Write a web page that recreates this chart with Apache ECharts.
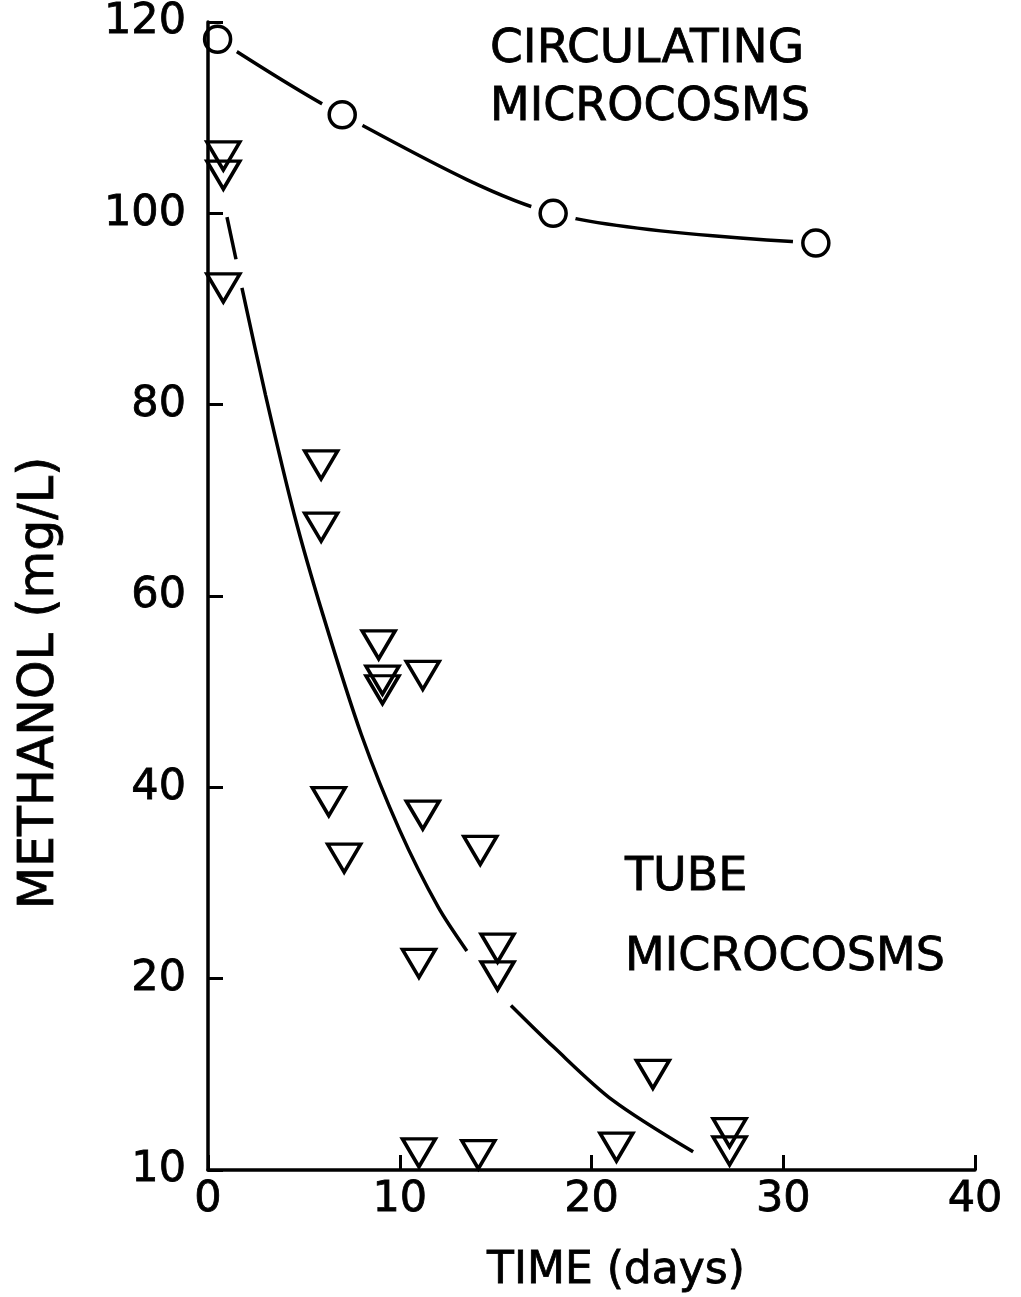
<!DOCTYPE html>
<html>
<head>
<meta charset="utf-8">
<script src="https://cdn.jsdelivr.net/npm/echarts@6/dist/echarts.min.js"></script>
<style>
html,body{margin:0;padding:0;background:#fff;}
#chart{width:1021px;height:1297px;}
</style>
</head>
<body>
<div id="chart"></div>
<script>
// ---- data ----
var xTicks = [0, 10, 20, 30, 40];
var yTickLabels = ['10', '20', '40', '60', '80', '100', '120']; // labels at 0,20,...,120 as printed

// circulating microcosms (days, mg/L)
var circulatingPoints = [[0.5, 118.2], [7.0, 110.3], [18.0, 100.0], [31.7, 96.9]];

// tube microcosms (days, mg/L)
var tubePoints = [
  [0.8, 106.0], [0.8, 104.0], [0.8, 92.2],
  [5.9, 73.7], [5.9, 67.2],
  [8.9, 54.9], [9.1, 51.2], [9.1, 50.2], [11.2, 51.7],
  [6.3, 38.5], [7.1, 32.6], [11.2, 37.1], [14.2, 33.4],
  [11.0, 21.6], [15.1, 23.2], [15.1, 20.3],
  [23.2, 10.0],
  [11.0, 1.8], [14.1, 1.6], [21.3, 2.4], [27.2, 3.9], [27.2, 2.0]
];

// fitted curve for tube microcosms, drawn in pieces (gaps as in the original)
var tubeCurveA = [[0.99, 99.6], [1.46, 95.2]];
var tubeCurveB = [[1.77, 92.2], [3.0, 81.0], [4.5, 68.5], [6.0, 58.0], [8.0, 45.5], [10.0, 35.5], [12.0, 27.5], [13.5, 22.9]];
var tubeCurveC = [[15.8, 17.2], [18.0, 12.9], [21.1, 7.3], [25.3, 1.9]];

var FONT = '"DejaVu Sans", "Liberation Sans", sans-serif';
var INK = '#000';

var chart = echarts.init(document.getElementById('chart'), null, {renderer: 'canvas'});

function curveSeries(data, sm) {
  return {
    type: 'line', data: data, smooth: sm, symbol: 'none', z: 2,
    lineStyle: {color: INK, width: 3.5}, silent: true
  };
}

function label(text, x, y, size, align, rot) {
  return {type: 'text', x: x, y: y, rotation: rot || 0,
    style: {text: text, font: 'normal ' + size + 'px ' + FONT, fill: INK,
      stroke: INK, lineWidth: 0.8, align: align, verticalAlign: 'middle'}};
}

var option = {
  backgroundColor: '#fff',
  animation: false,
  grid: {left: 208, right: 46, top: 22, bottom: 127, containLabel: false},
  xAxis: {
    type: 'value', min: 0, max: 40, interval: 10, z: 10,
    axisLine: {show: true, lineStyle: {color: INK, width: 3.5}},
    axisTick: {show: true, inside: true, length: 15, lineStyle: {color: INK, width: 3}},
    axisLabel: {color: INK, fontFamily: FONT, fontSize: 43, margin: 8,
      textBorderColor: INK, textBorderWidth: 0.8,
      formatter: function (v) { return xTicks.indexOf(v) >= 0 ? String(v) : ''; }},
    splitLine: {show: false}
  },
  yAxis: {
    type: 'value', min: 0, max: 120, interval: 20, z: 10,
    axisLine: {show: true, lineStyle: {color: INK, width: 3.5}},
    axisTick: {show: true, inside: true, length: 15, lineStyle: {color: INK, width: 3}},
    axisLabel: {color: INK, fontFamily: FONT, fontSize: 43, margin: 22,
      textBorderColor: INK, textBorderWidth: 0.8,
      formatter: function (v) { return yTickLabels[Math.round(v / 20)]; }},
    splitLine: {show: false}
  },
  series: [
    curveSeries(circulatingPoints, 0.3),
    { // white halo to open gaps in the curve around each circle
      type: 'scatter', data: circulatingPoints, symbol: 'circle', symbolSize: 46, z: 3,
      itemStyle: {color: '#fff', borderWidth: 0, opacity: 1}, silent: true
    },
    {
      type: 'scatter', data: circulatingPoints, symbol: 'circle', symbolSize: 26, z: 4,
      itemStyle: {color: '#fff', borderColor: INK, borderWidth: 3.5, opacity: 1}
    },
    curveSeries(tubeCurveA, 0.3),
    curveSeries(tubeCurveB, 0.3),
    curveSeries(tubeCurveC, 0.3),
    {
      type: 'scatter', data: tubePoints, symbol: 'triangle', symbolRotate: 180,
      symbolSize: [33, 28], z: 4,
      itemStyle: {color: 'rgba(255,255,255,0)', borderColor: INK, borderWidth: 3.5, opacity: 1}
    }
  ],
  graphic: [
    label('METHANOL (mg/L)', 40, 683, 49, 'center', Math.PI / 2),
    label('TIME (days)', 616, 1272, 44, 'center'),
    label('CIRCULATING', 490, 50, 47, 'left'),
    label('MICROCOSMS', 490, 108, 46, 'left'),
    label('TUBE', 625, 878, 46, 'left'),
    label('MICROCOSMS', 625, 958, 46, 'left')
  ]
};
chart.setOption(option);
</script>
</body>
</html>
